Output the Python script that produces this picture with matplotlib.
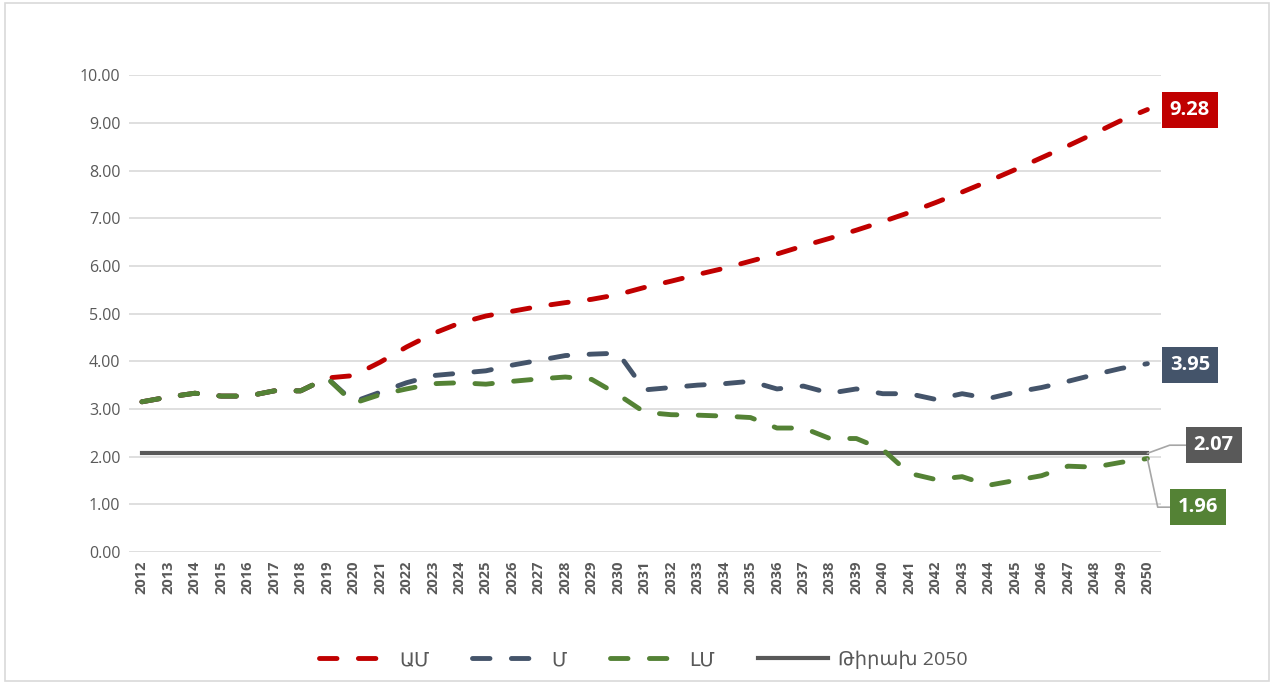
import matplotlib.pyplot as plt
import numpy as np
from matplotlib.patches import Rectangle

plt.rcParams['font.family'] = ['Open Sans', 'DejaVu Sans']

years = list(range(2012, 2051))
am = [3.15, 3.25, 3.33, 3.27, 3.27, 3.38, 3.38, 3.65, 3.70, 3.98,
      4.30, 4.58, 4.80, 4.95, 5.05, 5.15, 5.23, 5.30, 5.40, 5.55,
      5.68, 5.82, 5.95, 6.10, 6.25, 6.42, 6.58, 6.75, 6.93, 7.12,
      7.33, 7.55, 7.78, 8.02, 8.27, 8.52, 8.78, 9.05, 9.28]
m = [3.15, 3.25, 3.33, 3.27, 3.27, 3.38, 3.38, 3.65, 3.15, 3.35,
     3.55, 3.70, 3.75, 3.80, 3.92, 4.02, 4.12, 4.15, 4.17, 3.40,
     3.45, 3.50, 3.53, 3.58, 3.42, 3.48, 3.33, 3.42, 3.32, 3.32,
     3.20, 3.32, 3.22, 3.35, 3.45, 3.58, 3.72, 3.85, 3.95]
lm = [3.15, 3.25, 3.33, 3.27, 3.27, 3.38, 3.38, 3.65, 3.12, 3.30,
      3.42, 3.53, 3.55, 3.52, 3.58, 3.63, 3.67, 3.62, 3.30, 2.93,
      2.88, 2.87, 2.85, 2.82, 2.60, 2.60, 2.38, 2.38, 2.15, 1.65,
      1.52, 1.58, 1.40, 1.50, 1.60, 1.80, 1.78, 1.88, 1.96]
target = [2.07] * len(years)

names = ['ԱՄ', 'Մ', 'ԼՄ', 'Թիրախ 2050']
colors = ['#C00000', '#44546A', '#548235', '#595959']

fig = plt.figure(figsize=(12.74, 6.84), dpi=100)
ax = fig.add_axes([0.101, 0.193, 0.81, 0.697])
x = np.arange(len(years))

for vals, name, c in zip([am, m, lm], names[:3], colors[:3]):
    ax.plot(x, vals, color=c, lw=3.5, label=name, dashes=(3.6, 4.4),
            dash_capstyle='round', solid_capstyle='round', zorder=3)
ax.plot(x, target, color=colors[3], lw=3, label=names[3], zorder=2)

ax.set_xlim(-0.5, len(years) - 0.5)
ax.set_ylim(0, 10)
ax.set_yticks(np.arange(0, 11, 1))
ax.set_yticklabels(['%.2f' % v for v in np.arange(0, 11, 1)], fontsize=11.5, color='#595959')
ax.set_xticks(x)
ax.set_xticklabels(years, rotation=90, fontsize=10.5, fontweight='bold', color='#595959')
ax.tick_params(length=0, pad=6)
ax.grid(axis='y', color='#D9D9D9', lw=1.2)
ax.set_axisbelow(True)
for s in ax.spines.values():
    s.set_visible(False)

# end labels
box = dict(boxstyle='square,pad=0.4', ec='none')
fs = 14.5
ax.annotate('9.28', (x[-1], am[-1]), xytext=(x[-1] + 0.85, am[-1]), color='white',
            fontsize=fs, fontweight='bold', va='center', ha='left', bbox=dict(box, fc=colors[0]))
ax.annotate('3.95', (x[-1], m[-1]), xytext=(x[-1] + 0.85, m[-1] - 0.03), color='white',
            fontsize=fs, fontweight='bold', va='center', ha='left', bbox=dict(box, fc=colors[1]))
ax.annotate('2.07', (x[-1], target[-1]), xytext=(x[-1] + 1.75, 2.24), color='white',
            fontsize=fs, fontweight='bold', va='center', ha='left', bbox=dict(box, fc=colors[3]),
            arrowprops=dict(arrowstyle='-', color='#A6A6A6', lw=1.2, shrinkA=0, shrinkB=0,
                            connectionstyle='angle,angleA=180,angleB=20,rad=0'))
ax.annotate('1.96', (x[-1], lm[-1]), xytext=(x[-1] + 1.15, 0.94), color='white',
            fontsize=fs, fontweight='bold', va='center', ha='left', bbox=dict(box, fc=colors[2]),
            arrowprops=dict(arrowstyle='-', color='#A6A6A6', lw=1.2, shrinkA=0, shrinkB=0,
                            connectionstyle='angle,angleA=180,angleB=102,rad=0'))

leg = fig.legend(loc='center', bbox_to_anchor=(0.505, 0.035), ncol=4, frameon=False,
                 fontsize=14, handlelength=3.6, columnspacing=2.2, handletextpad=0.5)
for t in leg.get_texts():
    t.set_color('#595959')

fig.patches.append(Rectangle((0.004, 0.004), 0.992, 0.992, transform=fig.transFigure,
                             fill=False, ec='#D9D9D9', lw=1.2))

plt.savefig('out.png', dpi=100)
